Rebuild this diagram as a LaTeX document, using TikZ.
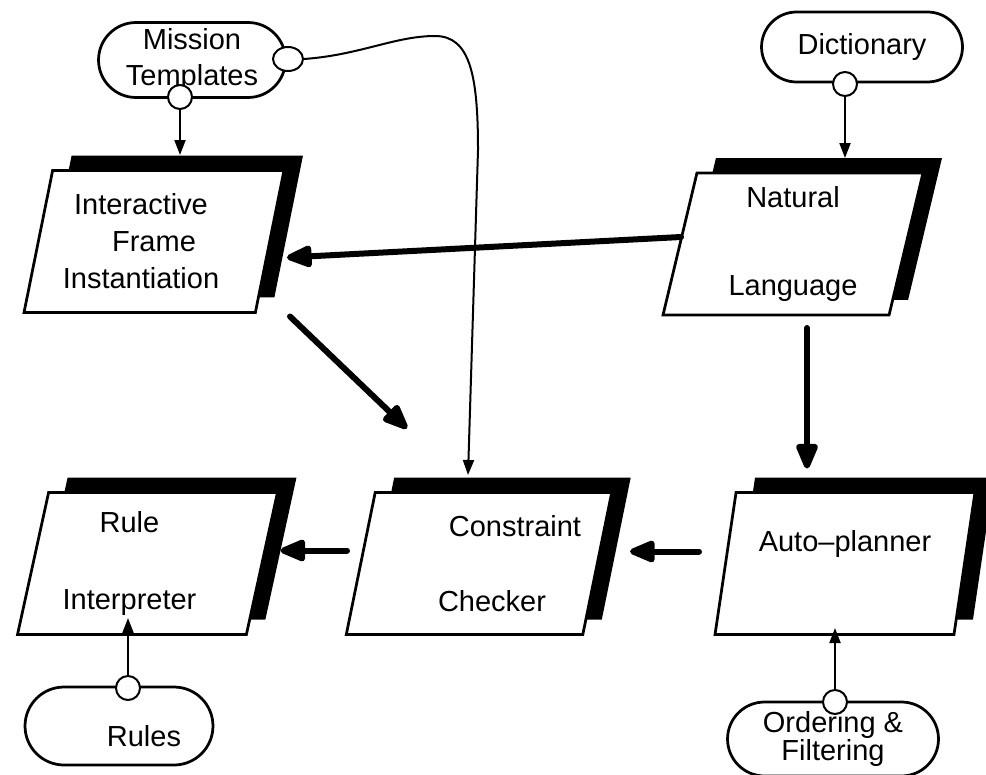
\documentclass[tikz,border=0pt]{standalone}
\usepackage{fontspec}
\setmainfont{Liberation Sans}
\usetikzlibrary{shapes.geometric,shapes.misc,shadows,arrows.meta,calc}

\tikzset{
  procbox/.style={trapezium, trapezium left angle=75, trapezium right angle=105,
    trapezium stretches body, draw, fill=white, line width=0.055cm,
    minimum height=2.84cm, minimum width=5.2cm, inner xsep=1pt, align=center,
    drop shadow={shadow xshift=0.38cm, shadow yshift=0.3cm, fill=black, opacity=1}},
  store/.style={rounded rectangle, draw, fill=white, line width=0.055cm, align=center, inner sep=0pt},
  port/.style={circle, draw, fill=white, line width=0.04cm, minimum size=0.48cm, inner sep=0pt},
  flow/.style={line width=0.04cm, -{Triangle[length=0.3cm,width=0.22cm]}},
  bigflow/.style={line width=0.12cm, line cap=round, -{Triangle[length=0.6cm,width=0.46cm,round]}},
}

\begin{document}
\begin{tikzpicture}[x=0.02cm, y=-0.02cm, font=\fontsize{16.5}{21}\selectfont]
      \path[use as bounding box] (0,0) rectangle (986,774);
      % Caixas
      \node[procbox] (ifi) at (154,241.5) {Interactive\hspace*{0.52cm}\\Frame\hspace*{1.08cm}\\Instantiation\hspace*{0.52cm}};
      \node[procbox] (nl)  at (793,244)   {Natural\\[29pt]Language};
      \node[procbox] (ri)  at (147.5,563.5) {Rule\hspace*{0.72cm}\\[23pt]Interpreter\hspace*{0.72cm}};
      \node[procbox] (cc)  at (479,563.5) {\hspace*{1.44cm}Constraint\\[21.6pt]\hspace*{0.52cm}Checker};
      \node[procbox, text depth=26pt] (ap) at (845,563.5) {Auto–planner};

      % Depositos
      \node[store, minimum width=3.74cm, minimum height=1.5cm]  (mt)    at (192,60)  {Mission\\Templates};
      \node[store, minimum width=4.02cm, minimum height=1.4cm]  (dict)  at (862,47)  {Dictionary};
      \node[store, minimum width=3.76cm, minimum height=1.56cm, text height=24pt] (rules) at (119,726) {\hspace*{1cm}Rules};
      \node[store, minimum width=4.22cm, minimum height=1.48cm] (ord)   at (833,739) {Ordering \&\\[-5pt]Filtering};

      % Portas
      \node[port] (mtp1)   at (180,97)  {};
      \node[port, ellipse, minimum width=0.6cm, minimum height=0.48cm] (mtp2) at (288,59) {};
      \node[port] (dictp)  at (845,84)  {};
      \node[port] (rulesp) at (128,688) {};
      \node[port] (ordp)   at (835,702) {};

      % Setas finas
      \draw[flow] (mtp1)   -- ($(ifi.center)+(26,-86.5)$);
      \draw[flow] (dictp)  -- ($(nl.center)+(52,-86)$);
      \draw[flow] (rulesp) -- ($(ri.center)+(-19.5,54.5)$);
      \draw[flow] (ordp)   -- ($(ap.center)+(-10,64.5)$);
      \draw[flow] (mtp2.east) .. controls (360,55) and (395,36) .. (435,36)
                  .. controls (470,36) and (478,75) .. (478,150)
                  -- ($(cc.center)+(-11,-88.5)$);

      % Setas grossas
      \draw[bigflow] ($(nl.center)+(-112,-7)$)  -- ($(ifi.center)+(133,16)$);
      \draw[bigflow] ($(ifi.center)+(136,75)$)  -- ($(cc.center)+(-72,-135)$);
      \draw[bigflow] ($(nl.center)+(14,84)$)    -- ($(ap.center)+(-38,-95)$);
      \draw[bigflow] ($(ap.center)+(-146,-12)$) -- ($(cc.center)+(151,-12)$);
      \draw[bigflow] ($(cc.center)+(-132,-13)$) -- ($(ri.center)+(133,-13)$);

\end{tikzpicture}
\end{document}
